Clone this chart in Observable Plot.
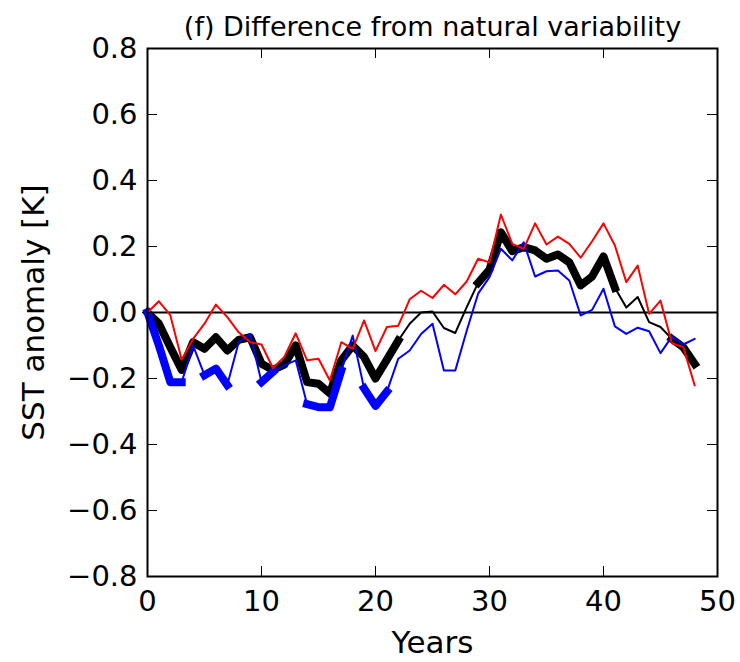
<!DOCTYPE html>
<html>
<head>
<meta charset="utf-8">
<script src="https://cdn.jsdelivr.net/npm/d3@7"></script>
<script src="https://cdn.jsdelivr.net/npm/@observablehq/plot@0.6"></script>
<style>
  html, body { margin: 0; padding: 0; background: #fff; }
  svg { display: block; }
</style>
</head>
<body>
<div id="chart"></div>
<script>
const title = "(f) Difference from natural variability";
const xLabel = "Years";
const yLabel = "SST anomaly [K]";
const xTicks = [0, 10, 20, 30, 40, 50];
const yTicks = [-0.8, -0.6, -0.4, -0.2, 0.0, 0.2, 0.4, 0.6, 0.8];

const years = [0,1,2,3,4,5,6,7,8,9,10,11,12,13,14,15,16,17,18,19,20,21,22,23,24,25,26,27,28,29,30,31,32,33,34,35,36,37,38,39,40,41,42,43,44,45,46,47,48];

const red = [0.0,0.034,-0.008,-0.143,-0.08,-0.034,0.024,-0.014,-0.06,-0.09,-0.097,-0.168,-0.135,-0.063,-0.145,-0.14,-0.206,-0.09,-0.11,-0.024,-0.117,-0.044,-0.04,0.04,0.066,0.044,0.084,0.055,0.094,0.163,0.152,0.297,0.208,0.193,0.27,0.206,0.23,0.208,0.166,0.216,0.27,0.203,0.092,0.142,-0.004,0.036,-0.093,-0.105,-0.221];

const blue = [0.0,-0.1,-0.211,-0.211,-0.1,-0.19,-0.17,-0.22,-0.09,-0.065,-0.211,-0.18,-0.16,-0.145,-0.278,-0.287,-0.287,-0.176,-0.07,-0.23,-0.283,-0.24,-0.14,-0.115,-0.065,-0.034,-0.176,-0.176,-0.055,0.057,0.107,0.193,0.158,0.213,0.109,0.125,0.127,0.097,-0.009,0.008,0.072,-0.042,-0.065,-0.046,-0.057,-0.123,-0.073,-0.097,-0.08];

const black = [0.0,-0.034,-0.105,-0.174,-0.09,-0.11,-0.075,-0.115,-0.083,-0.075,-0.155,-0.174,-0.158,-0.1,-0.211,-0.216,-0.245,-0.145,-0.1,-0.135,-0.2,-0.143,-0.085,-0.034,0.0,0.003,-0.047,-0.062,0.016,0.09,0.13,0.243,0.186,0.198,0.188,0.163,0.176,0.152,0.082,0.109,0.17,0.075,0.015,0.047,-0.029,-0.044,-0.08,-0.105,-0.156];

// year ranges drawn thick (significant)
const blackThick = [[0, 22], [29, 41], [46, 48]];
const blueThick = [[0, 3], [5, 7], [10, 11], [14, 17], [19, 21]];

function rows(vals) { return years.map((y, i) => ({year: y, v: vals[i]})); }
function thickRows(vals, ranges) {
  const out = [];
  ranges.forEach((r, k) => {
    years.forEach((y, i) => { if (y >= r[0] && y <= r[1]) out.push({year: y, v: vals[i], seg: k}); });
  });
  return out;
}
const fmt = d => (Math.abs(d) < 1e-9 ? "0.0" : (d < 0 ? "\u2212" + (-d).toFixed(1) : d.toFixed(1)));

const W = 740, H = 662, mL = 147, mR = 23, mT = 48, mB = 86;
const pw = W - mL - mR, ph = H - mT - mB;
const tick = 10;

const chart = Plot.plot({
  width: W, height: H,
  marginLeft: mL, marginRight: mR, marginTop: mT, marginBottom: mB,
  style: {fontFamily: "DejaVu Sans", fontSize: "29px", color: "#000", background: "#fff"},
  x: {domain: [0, 50], axis: null},
  y: {domain: [-0.8, 0.8], axis: null},
  marks: [
    Plot.ruleY([0], {stroke: "black", strokeWidth: 2}),
    Plot.line(rows(black), {x: "year", y: "v", stroke: "black", strokeWidth: 2}),
    Plot.line(thickRows(black, blackThick), {x: "year", y: "v", z: "seg", stroke: "black", strokeWidth: 8, strokeLinecap: "square"}),
    Plot.line(rows(blue), {x: "year", y: "v", stroke: "#0000ff", strokeWidth: 2}),
    Plot.line(thickRows(blue, blueThick), {x: "year", y: "v", z: "seg", stroke: "#0000ff", strokeWidth: 8, strokeLinecap: "square"}),
    Plot.line(rows(red), {x: "year", y: "v", stroke: "#ff0000", strokeWidth: 2}),
    // inward ticks
    Plot.tickY(yTicks, {y: d => d, stroke: "black", strokeWidth: 1, insetRight: pw - tick}),
    Plot.tickY(yTicks, {y: d => d, stroke: "black", strokeWidth: 1, insetLeft: pw - tick}),
    Plot.tickX(xTicks, {x: d => d, stroke: "black", strokeWidth: 1, insetTop: ph - tick}),
    Plot.tickX(xTicks, {x: d => d, stroke: "black", strokeWidth: 1, insetBottom: ph - tick}),
    Plot.frame({stroke: "black", strokeWidth: 2}),
    // tick labels
    Plot.axisY({ticks: yTicks, tickSize: 0, tickPadding: 10, tickFormat: fmt, fontSize: 29, label: null}),
    Plot.axisX({ticks: xTicks, tickSize: 0, tickPadding: 14, tickFormat: d => String(d), fontSize: 29, label: null}),
    // labels and title
    Plot.text([yLabel], {frameAnchor: "left", rotate: -90, dx: -113, fontSize: 31, textAnchor: "middle", lineAnchor: "middle"}),
    Plot.text([xLabel], {frameAnchor: "bottom", dy: 67, fontSize: 31, textAnchor: "middle", lineAnchor: "middle"}),
    Plot.text([title], {frameAnchor: "top", dy: -21, fontSize: 27, textAnchor: "middle", lineAnchor: "middle"})
  ]
});
document.getElementById("chart").appendChild(chart);
</script>
</body>
</html>
